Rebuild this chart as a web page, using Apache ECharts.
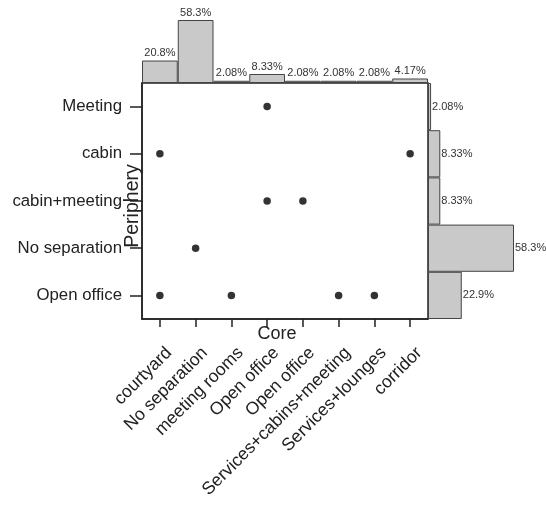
<!DOCTYPE html>
<html>
<head>
<meta charset="utf-8">
<script src="https://cdn.jsdelivr.net/npm/echarts@6/dist/echarts.min.js"></script>
<style>html,body{margin:0;padding:0;background:#fff;}#c{width:546px;height:510px;}</style>
</head>
<body>
<div id="c"></div>
<script>
// Core (x) categories
const coreCats = ['courtyard', 'No separation', 'meeting rooms', 'Open office', 'Open office', 'Services+cabins+meeting', 'Services+lounges', 'corridor'];
// Periphery (y) categories, bottom to top
const peripheryCats = ['Open office', 'No separation', 'cabin+meeting', 'cabin', 'Meeting'];
// Marginal percentages
const corePct = [20.8, 58.3, 2.08, 8.33, 2.08, 2.08, 2.08, 4.17];
const peripheryPct = [22.9, 58.3, 8.33, 8.33, 2.08];
// Observed combinations: core index (categories repeat a name) and periphery name
const pointCore = [3, 0, 7, 3, 4, 1, 0, 2, 5, 6];
const pointPeriphery = ['Meeting', 'cabin', 'cabin', 'cabin+meeting', 'cabin+meeting', 'No separation', 'Open office', 'Open office', 'Open office', 'Open office'];

const points = pointCore.map((c, i) => [c, pointPeriphery[i]]);
const FONT = 'Liberation Sans, Arial, sans-serif';
const TXT = '#222';
const BAR = '#c9c9c9';
const BARLINE = '#444';

const chart = echarts.init(document.getElementById('c'), null, {renderer: 'canvas'});
chart.setOption({
  animation: false,
  backgroundColor: '#fff',
  textStyle: {fontFamily: FONT},
  grid: [
    {left: 142, top: 83, width: 286, height: 236, show: true, borderColor: '#222', borderWidth: 1.5, backgroundColor: '#fff', containLabel: false, outerBoundsMode: 'none'},
    {left: 142, top: 20, width: 286, height: 63, containLabel: false, outerBoundsMode: 'none'},
    {left: 428, top: 83, width: 86, height: 236, containLabel: false, outerBoundsMode: 'none'}
  ],
  xAxis: [
    {
      gridIndex: 0, type: 'category', data: coreCats, boundaryGap: true,
      axisLine: {show: true, lineStyle: {color: '#222', width: 1.5}},
      axisTick: {show: true, length: 8, alignWithLabel: true, lineStyle: {color: '#222', width: 1.5}},
      axisLabel: {rotate: 45, interval: 0, fontSize: 17.6, color: TXT, fontFamily: FONT, margin: 22, verticalAlign: 'top', lineHeight: 26},
      splitLine: {show: false},
      name: 'Core', nameLocation: 'middle', nameGap: 6, nameMoveOverlap: false,
      nameTextStyle: {fontSize: 18, color: TXT, fontFamily: FONT, padding: [0, 16, 0, 0]}
    },
    {gridIndex: 1, type: 'category', data: coreCats, boundaryGap: true, show: false},
    {gridIndex: 2, type: 'value', min: 0, max: 58.3, show: false}
  ],
  yAxis: [
    {
      gridIndex: 0, type: 'category', data: peripheryCats, boundaryGap: true,
      axisLine: {show: true, lineStyle: {color: '#222', width: 1.5}},
      axisTick: {show: true, length: 12, alignWithLabel: true, lineStyle: {color: '#222', width: 1.5}},
      axisLabel: {fontSize: 16.8, color: TXT, fontFamily: FONT, margin: 20},
      splitLine: {show: false},
      name: 'Periphery', nameLocation: 'middle', nameRotate: 90, nameGap: -1, nameMoveOverlap: false,
      nameTextStyle: {fontSize: 19.5, color: TXT, fontFamily: FONT, padding: [0, 10, 0, 0]}
    },
    {gridIndex: 1, type: 'value', min: 0, max: 58.3, show: false},
    {gridIndex: 2, type: 'category', data: peripheryCats, boundaryGap: true, show: false}
  ],
  series: [
    {
      type: 'bar', xAxisIndex: 1, yAxisIndex: 1, data: corePct, barCategoryGap: 0,
      itemStyle: {color: BAR, borderColor: BARLINE, borderWidth: 1},
      label: {show: true, position: 'top', distance: 2, formatter: '{c}%', fontSize: 11, color: '#333', fontFamily: FONT}
    },
    {
      type: 'bar', xAxisIndex: 2, yAxisIndex: 2, data: peripheryPct, barCategoryGap: 0,
      itemStyle: {color: BAR, borderColor: BARLINE, borderWidth: 1},
      label: {show: true, position: 'right', distance: 1, formatter: '{c}%', fontSize: 11, color: '#333', fontFamily: FONT}
    },
    {
      type: 'scatter', xAxisIndex: 0, yAxisIndex: 0, data: points,
      symbol: 'circle', symbolSize: 7.5, itemStyle: {color: '#000'}
    }
  ]
});
</script>
</body>
</html>
